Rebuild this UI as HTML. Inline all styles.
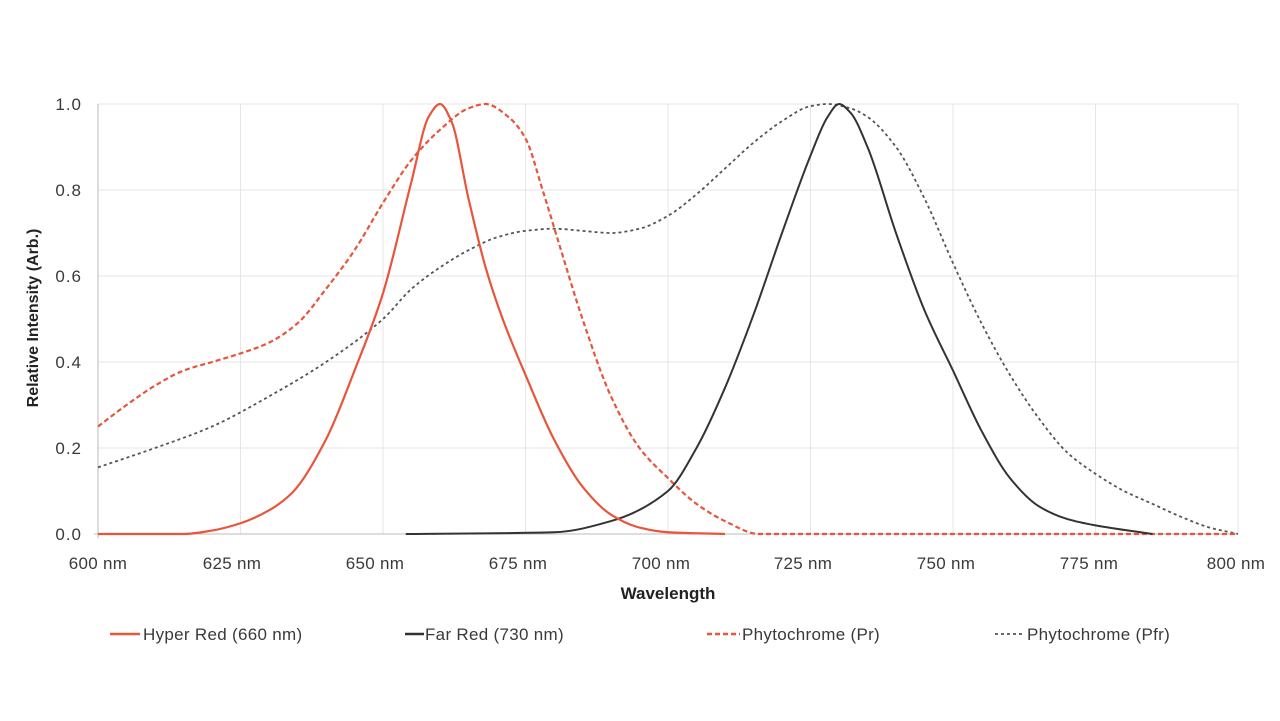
<!DOCTYPE html>
<html><head><meta charset="utf-8"><style>
body{margin:0;background:#fff;}
svg{display:block;font-family:"Liberation Sans",sans-serif;}
</style></head><body>
<svg id="s" width="1280" height="721" viewBox="0 0 1280 721">
<g stroke="#e6e6e6" stroke-width="1">
<line x1="98" y1="104" x2="1238" y2="104"/><line x1="98" y1="190" x2="1238" y2="190"/>
<line x1="98" y1="276" x2="1238" y2="276"/><line x1="98" y1="362" x2="1238" y2="362"/>
<line x1="98" y1="448" x2="1238" y2="448"/>
<line x1="240.5" y1="104" x2="240.5" y2="534"/><line x1="383" y1="104" x2="383" y2="534"/>
<line x1="525.5" y1="104" x2="525.5" y2="534"/><line x1="668" y1="104" x2="668" y2="534"/>
<line x1="810.5" y1="104" x2="810.5" y2="534"/><line x1="953" y1="104" x2="953" y2="534"/>
<line x1="1095.5" y1="104" x2="1095.5" y2="534"/><line x1="1238" y1="104" x2="1238" y2="534"/>
</g>
<line x1="98" y1="104" x2="98" y2="538" stroke="#bbb"/>
<line x1="94" y1="534" x2="1238" y2="534" stroke="#bbb"/>
<g font-size="17" fill="#3a3a3a" text-anchor="end" letter-spacing="1">
<text x="82" y="110">1.0</text><text x="82" y="196">0.8</text><text x="82" y="282">0.6</text>
<text x="82" y="368">0.4</text><text x="82" y="454">0.2</text><text x="82" y="540">0.0</text>
</g>
<g font-size="17" fill="#3a3a3a" text-anchor="middle" letter-spacing="0.3">
<text x="98" y="569">600 nm</text><text x="232" y="569">625 nm</text><text x="375" y="569">650 nm</text>
<text x="518" y="569">675 nm</text><text x="661" y="569">700 nm</text><text x="803" y="569">725 nm</text>
<text x="946" y="569">750 nm</text><text x="1089" y="569">775 nm</text><text x="1236" y="569">800 nm</text>
</g>
<text x="668" y="599" font-size="17" font-weight="bold" fill="#222" text-anchor="middle">Wavelength</text>
<text transform="translate(38,318) rotate(-90)" font-size="16" font-weight="bold" fill="#222" text-anchor="middle">Relative Intensity (Arb.)</text>
<g id="curves" fill="none"></g>
<g font-size="17" fill="#3a3a3a" letter-spacing="0.3">
<line x1="110" y1="634" x2="140" y2="634" stroke="#e8553a" stroke-width="2.5"/><text x="143" y="640">Hyper Red (660 nm)</text>
<line x1="405" y1="634" x2="424" y2="634" stroke="#333" stroke-width="2.5"/><text x="425" y="640">Far Red (730 nm)</text>
<line x1="707" y1="634" x2="740" y2="634" stroke="#e8553a" stroke-width="2.5" stroke-dasharray="5,3"/><text x="742" y="640">Phytochrome (Pr)</text>
<line x1="995" y1="634" x2="1025" y2="634" stroke="#555" stroke-width="1.8" stroke-dasharray="3,3"/><text x="1027" y="640">Phytochrome (Pfr)</text>
</g>
</svg>
<script>
function X(n){return 98+(n-600)*5.7}function Y(v){return 534-v*430}
function path(d){var n=d.length,x=d.map(function(a){return X(a[0])}),y=d.map(function(a){return Y(a[1])});
var dl=[],m=[];for(var i=0;i<n-1;i++)dl.push((y[i+1]-y[i])/(x[i+1]-x[i]));
m[0]=dl[0];m[n-1]=dl[n-2];
for(i=1;i<n-1;i++){if(dl[i-1]*dl[i]<=0)m[i]=0;else{var w1=2*(x[i+1]-x[i])+(x[i]-x[i-1]),w2=(x[i+1]-x[i])+2*(x[i]-x[i-1]);m[i]=(w1+w2)/(w1/dl[i-1]+w2/dl[i]);}}
var s="M"+x[0]+","+y[0];
for(i=0;i<n-1;i++){var h=(x[i+1]-x[i])/3;s+=" C"+(x[i]+h)+","+(y[i]+m[i]*h)+" "+(x[i+1]-h)+","+(y[i+1]-m[i+1]*h)+" "+x[i+1]+","+y[i+1];}
return s;}
var hr=[[600,0],[615,0],[620,0.008],[625,0.025],[630,0.055],[634,0.095],[640,0.22],[645,0.38],[650,0.56],[655,0.82],[658,0.97],[660,1.0],[662,0.96],[665,0.78],[668,0.62],[671,0.5],[675,0.37],[680,0.22],[685,0.11],[690,0.045],[695,0.015],[700,0.004],[710,0]];
var fr=[[654,0],[680,0.004],[690,0.03],[700,0.1],[705,0.2],[710,0.34],[715,0.51],[720,0.7],[725,0.88],[728,0.97],[730,1.0],[732,0.98],[735,0.9],[740,0.7],[745,0.52],[750,0.38],[755,0.24],[760,0.13],[765,0.065],[770,0.035],[775,0.02],[785,0]];
var pr=[[600,0.25],[605,0.3],[610,0.345],[615,0.38],[620,0.4],[625,0.42],[630,0.445],[635,0.49],[640,0.57],[645,0.66],[650,0.77],[655,0.87],[660,0.94],[665,0.99],[668,1.0],[672,0.97],[675,0.92],[678,0.8],[681,0.67],[685,0.5],[690,0.32],[695,0.2],[700,0.13],[705,0.07],[710,0.03],[716,0],[800,0]];
var pfr=[[600,0.155],[610,0.2],[620,0.25],[630,0.32],[640,0.4],[650,0.5],[655,0.57],[660,0.62],[665,0.66],[670,0.69],[675,0.705],[680,0.71],[685,0.705],[690,0.7],[695,0.71],[700,0.74],[705,0.79],[710,0.85],[715,0.91],[720,0.96],[725,0.995],[728,1.0],[732,0.99],[735,0.97],[740,0.9],[745,0.78],[750,0.63],[755,0.49],[760,0.37],[765,0.27],[770,0.19],[775,0.14],[780,0.1],[785,0.07],[790,0.04],[795,0.015],[800,0]];
var g=document.getElementById("curves");
function add(d,c,w,da){var e=document.createElementNS("http://www.w3.org/2000/svg","path");e.setAttribute("d",path(d));e.setAttribute("stroke",c);e.setAttribute("stroke-width",w);if(da)e.setAttribute("stroke-dasharray",da);g.appendChild(e);}
add(pfr,"#555",1.8,"3,3");add(pr,"#e8553a",2.2,"5,3");add(fr,"#333",2,"");add(hr,"#e8553a",2.2,"");
</script>
</body></html>
